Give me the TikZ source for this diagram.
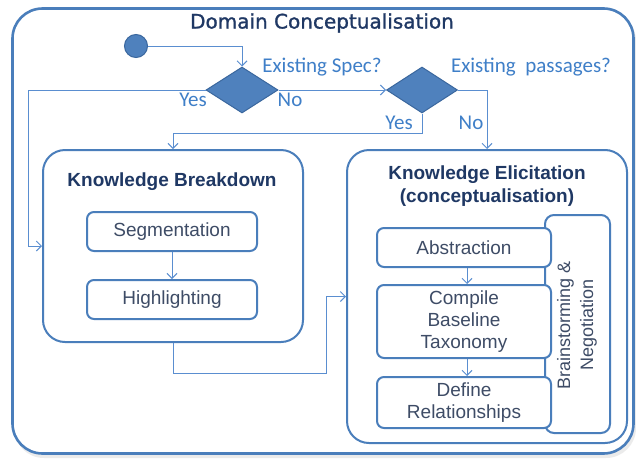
\documentclass[tikz,border=0pt]{standalone}
\usepackage{fontspec}
\setmainfont{Liberation Sans}
\newfontfamily\calfont{Carlito}
\newfontfamily\titlefont[FakeBold=1.2]{DejaVu Sans}
\usepackage{tikz}
\usetikzlibrary{arrows.meta,shapes.geometric,positioning}
\definecolor{boxblue}{HTML}{4A7EBB}
\definecolor{lineblue}{HTML}{5A8ED0}
\definecolor{fillblue}{HTML}{4F81BD}
\definecolor{edgeblue}{HTML}{3A679E}
\definecolor{navy}{HTML}{1F3864}
\definecolor{txtgrey}{HTML}{3E4C66}
\definecolor{lblblue}{HTML}{3F7FC8}
\tikzset{
  frame/.style={
    rectangle,
    rounded corners=30pt,
    draw=boxblue, line width=2.6pt,
  },
  stage/.style={
    rectangle,
    rounded corners=22pt,
    draw=boxblue, line width=2pt,
  },
  task/.style={
    rectangle,
    rounded corners=7pt,
    draw=boxblue, line width=2pt,
    fill=white,
    minimum width=174pt,
    inner sep=2pt,
    align=center,
    text=txtgrey,
    font=\fontsize{19}{21.7}\selectfont,
  },
  decision/.style={
    diamond,
    draw=edgeblue, line width=1pt,
    fill=fillblue,
    inner sep=0pt,
    minimum width=72pt, minimum height=46pt,
  },
  lbl/.style={
    text=lblblue,
    inner sep=0pt,
    font=\calfont\fontsize{21}{24}\selectfont,
  },
  heading/.style={
    text=navy,
    align=center,
    font=\fontsize{19}{23}\selectfont\bfseries,
  },
  flow/.style={
    draw=lineblue, line width=1pt,
  },
}

\begin{document}
\begin{tikzpicture}[x=1pt,y=-1pt,>={Straight Barb[length=5pt,width=10pt]}]
  \useasboundingbox (0,0) rectangle (636,458);
  % outer frame
  \draw[fill=black!8,draw=none,rounded corners=30pt] (14,11) rectangle (636,458);
  \node[frame, fill=white, minimum width=621pt, minimum height=445pt] (dom) at (323,231) {};
  \node[text=navy, font=\titlefont\fontsize{20}{24}\selectfont] (domtitle) at (322,23) {Domain Conceptualisation};

  % start and decisions
  \node[circle, fill=fillblue, draw=edgeblue, line width=1pt, minimum size=23pt, inner sep=0pt] (start) at (136,46) {};
  \node[decision] (spec) at (242,90) {};
  \node[decision, minimum width=71pt] (pass) at (422,90) {};
  \node[lbl] (specq) at (322,67) {Existing Spec?};
  \node[lbl] (passq) at (531,67) {Existing~~passages?};
  \node[lbl] (specyes) at (193,100) {Yes};
  \node[lbl] (specno) at (290,100) {No};
  \node[lbl] (passyes) at (399,123) {Yes};
  \node[lbl] (passno) at (471,123) {No};

  % knowledge breakdown
  \node[stage, minimum width=260pt, minimum height=192pt] (kb) at (173,246) {};
  \node[heading] (kbtitle) at (172,182) {Knowledge Breakdown};
  \node[task, minimum width=170pt, minimum height=39pt] (seg) at (172,231.5) {Segmentation};
  \node[task, minimum width=170pt, minimum height=39pt] (high) at (172,299.5) {Highlighting};

  % knowledge elicitation
  \node[stage, minimum width=280pt, minimum height=293pt] (ke) at (487,296.5) {};
  \node[heading] (ketitle) at (487,186.5) {Knowledge Elicitation\\(conceptualisation)};
  \node[task, rounded corners=9pt, minimum width=65pt, minimum height=218pt] (brain) at (577.5,324) {};
  \node[rotate=90, align=center, text=txtgrey, font=\fontsize{18}{23}\selectfont] (braintxt) at (577,325) {Brainstorming \&\\Negotiation};
  \node[task, minimum height=39pt] (abs) at (464,247.5) {Abstraction};
  \node[task, minimum height=73pt] (comp) at (464,321.5) {Compile\\Baseline\\Taxonomy};
  \node[task, minimum height=51pt] (rel) at (464,402.5) {Define\\Relationships};

  % connectors
  \coordinate (lft) at (28,90);
  \coordinate (kbout) at (326,373);
  \draw[flow,->] (start.east) -| (spec.north);
  \draw[flow,->] (spec.west) -- (lft) |- (kb.west);
  \draw[flow,->] (spec.east) -- (pass.west);
  \draw[flow,->] (pass.south) -- ++(0,20) -| (kb.north);
  \draw[flow,->] (pass.east) -| (ke.north);
  \draw[flow,->] (kb.south) |- (kbout) |- (ke.west);
  \draw[flow,->] (seg) -- (high);
  \draw[flow,->] (abs.south -| 467,0) -- (comp.north -| 467,0);
  \draw[flow,->] (comp.south -| 467,0) -- (rel.north -| 467,0);
\end{tikzpicture}
\end{document}
